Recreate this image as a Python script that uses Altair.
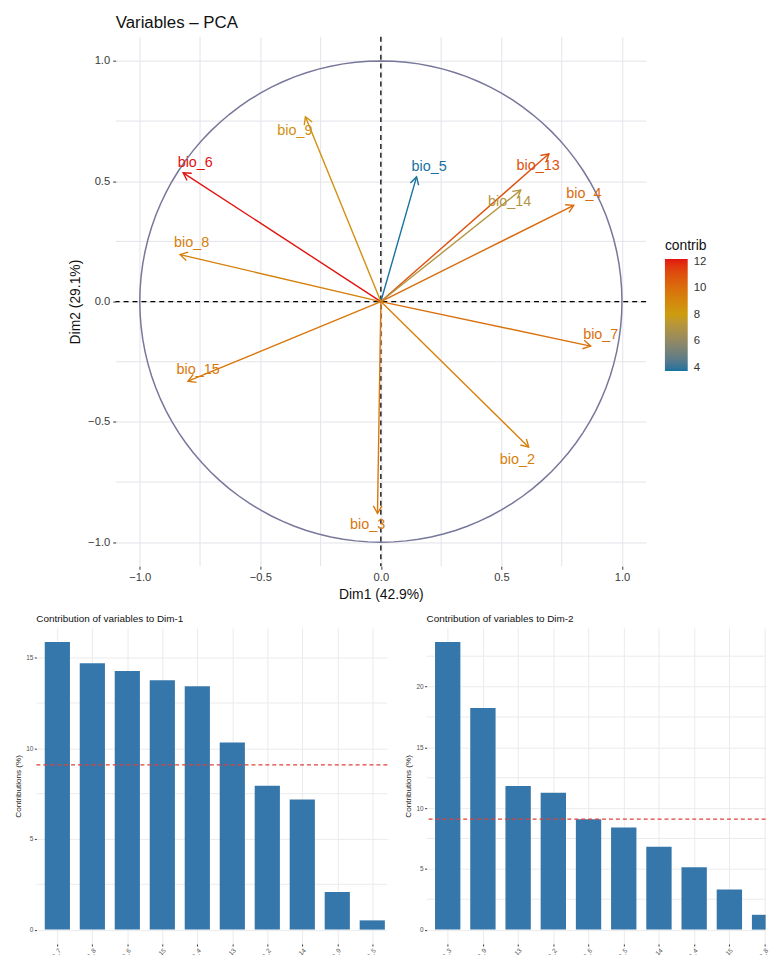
import altair as alt
import pandas as pd

FONT = "Liberation Sans"

# ---------------- PCA variable map ----------------
var_names = ["bio_2", "bio_3", "bio_4", "bio_5", "bio_6", "bio_7", "bio_8",
             "bio_9", "bio_13", "bio_14", "bio_15"]
dim1_coord = [0.613, -0.014, 0.80, 0.148, -0.82, 0.87, -0.833, -0.313, 0.697, 0.58, -0.80]
dim2_coord = [-0.605, -0.88, 0.40, 0.518, 0.535, -0.185, 0.195, 0.768, 0.614, 0.463, -0.331]
contrib_total = [9.3, 9.6, 10.1, 3.75, 12.2, 9.9, 9.3, 8.6, 11.0, 7.1, 9.6]
label_x = [0.566, -0.055, 0.842, 0.2, -0.77, 0.912, -0.785, -0.357, 0.652, 0.534, -0.758]
label_y = [-0.657, -0.928, 0.445, 0.56, 0.577, -0.141, 0.243, 0.709, 0.564, 0.415, -0.286]

pca_major = [-1.0, -0.5, 0.0, 0.5, 1.0]
pca_minor = [-0.75, -0.25, 0.25, 0.75]
legend_ticks = [4, 6, 8, 10, 12]

# ---------------- contributions ----------------
dim1_order = ["bio_7", "bio_8", "bio_6", "bio_15", "bio_4", "bio_13", "bio_2",
              "bio_14", "bio_9", "bio_5", "bio_3"]
dim1_contrib = [15.86, 14.69, 14.27, 13.76, 13.43, 10.32, 7.93, 7.18, 2.08, 0.51, 0.02]
dim2_order = ["bio_3", "bio_9", "bio_13", "bio_2", "bio_6", "bio_5", "bio_14",
              "bio_4", "bio_15", "bio_8", "bio_7"]
dim2_contrib = [23.66, 18.24, 11.81, 11.26, 9.09, 8.41, 6.81, 5.13, 3.31, 1.22, 1.06]
expected_contrib = 9.09
dim1_major = [0, 5, 10, 15]
dim1_minor = [2.5, 7.5, 12.5]
dim2_major = [0, 5, 10, 15, 20]
dim2_minor = [2.5, 7.5, 12.5, 17.5, 22.5]

# ================= top chart =================
pca_df = pd.DataFrame({"name": var_names, "x": dim1_coord, "y": dim2_coord,
                       "contrib": contrib_total, "lx": label_x, "ly": label_y})
zero_df = pd.DataFrame({"o": [0.0]})
minor_df = pd.DataFrame({"g": pca_minor})

PGRID = "#e3e3ea"
xs = alt.Scale(domain=[-1.1, 1.1], nice=False, zero=False)
ys = alt.Scale(domain=[-1.1, 1.1], nice=False, zero=False)


def pca_axis(title, **kw):
    return alt.Axis(values=pca_major, title=title, format=".1f",
                    grid=True, gridColor=PGRID, gridWidth=1, domain=False,
                    tickColor="#333333", tickSize=3, tickWidth=1,
                    labelFontSize=11.3, labelColor="#3a3a3a",
                    titleFontSize=14, titleFontWeight="normal", titleColor="#111111",
                    labelFlush=False, labelOverlap=False, titlePadding=5, **kw)


XAX = pca_axis("Dim1 (42.9%)", labelPadding=2)
YAX = pca_axis("Dim2 (29.1%)", labelPadding=3)


def px(field):
    return alt.X(field, scale=xs, axis=XAX)


def py(field):
    return alt.Y(field, scale=ys, axis=YAX)


minor_x = alt.Chart(minor_df).mark_rule(color=PGRID, strokeWidth=1).encode(x=px("g:Q"))
minor_y = alt.Chart(minor_df).mark_rule(color=PGRID, strokeWidth=1).encode(y=py("g:Q"))

circle = alt.Chart(alt.sequence(0, 361, 3, as_="deg")).transform_calculate(
    cx="cos(datum.deg*PI/180)", cy="sin(datum.deg*PI/180)"
).mark_line(color="#77779a", strokeWidth=1.5).encode(
    x=px("cx:Q"), y=py("cy:Q"), order="deg:Q")

hline = alt.Chart(zero_df).mark_rule(color="black", strokeDash=[5, 4], strokeWidth=1.3).encode(
    y=py("o:Q"))
vline = alt.Chart(zero_df).mark_rule(color="black", strokeDash=[5, 4], strokeWidth=1.3).encode(
    x=px("o:Q"))

color_scale = alt.Scale(range=["#17729f", "#cc9e0e", "#e2120f"], interpolate="lab",
                        zero=False, nice=False)
color_legend = alt.Color(
    "contrib:Q", scale=color_scale,
    legend=alt.Legend(type="gradient", orient="none", legendX=554, legendY=204,
                      title="contrib", direction="vertical", gradientLength=113,
                      gradientThickness=23, values=legend_ticks, titleFontSize=14,
                      titleFontWeight="normal", titleColor="#111111", titlePadding=6,
                      labelFontSize=11.5, labelColor="#333333", labelOffset=6, padding=0,
                      gradientStrokeWidth=0, titleFont=FONT, labelFont=FONT),
)
color_plain = alt.Color("contrib:Q", scale=color_scale, legend=None)

segs = alt.Chart(pca_df).transform_calculate(o="0").mark_rule(strokeWidth=1.4).encode(
    x=px("x:Q"), y=py("y:Q"), x2="o:Q", y2="o:Q", color=color_legend)

heads = alt.Chart(pca_df).transform_calculate(
    ang="(atan2(datum.x, datum.y)*180/PI + 360) % 360"
).mark_point(shape="M -0.577 1 L 0 0 L 0.577 1", filled=False, size=225,
             strokeWidth=1.4, opacity=1).encode(
    x=px("x:Q"), y=py("y:Q"), color=color_plain, angle=alt.Angle("ang:Q", scale=None))

labels = alt.Chart(pca_df).mark_text(fontSize=14.5, font=FONT).encode(
    x=px("lx:Q"), y=py("ly:Q"), text="name:N", color=color_plain)

pca = alt.layer(minor_x, minor_y, circle, hline, vline, segs, heads, labels).resolve_legend(
    color="independent"
).properties(
    width=535, height=534,
    title=alt.TitleParams("Variables \u2013 PCA", anchor="start", frame="group", offset=4,
                          fontSize=17, fontWeight="normal", font=FONT, color="#111111"))

spacer = alt.Chart(zero_df).mark_point(opacity=0, size=1).encode(
    x=alt.value(16), y=alt.value(5)).properties(width=32, height=10)

# ================= contribution bars =================
BAR = "#3677ab"
GRID = "#ebebeb"


def contrib_chart(order, vals, title, width, xmax, yhi, ymajor, yminor):
    df = pd.DataFrame({"var": order, "val": vals})
    df["idx"] = list(range(len(order)))
    labels_js = "[" + ",".join(f"'{v}'" for v in order) + "]"
    xscale = alt.Scale(domain=[-0.6, xmax], nice=False, zero=False)
    yscale = alt.Scale(domain=[-0.05 * yhi, 1.05 * yhi], nice=False, zero=False)
    xaxis = alt.Axis(values=list(range(10)), labelExpr=f"{labels_js}[datum.value]",
                     title=None, grid=True, gridColor=GRID, domain=False, tickSize=2,
                     tickColor="#333333", labelAngle=-45, labelAlign="right",
                     labelBaseline="top", labelFontSize=6.5, labelColor="#4d4d4d",
                     labelPadding=1, labelFlush=False, labelOverlap=False)
    yaxis = alt.Axis(values=ymajor, title="Contributions (%)", grid=True, gridColor=GRID,
                     domain=False, tickSize=2, tickColor="#333333",
                     labelFontSize=6.5, labelColor="#4d4d4d", labelPadding=1.5,
                     titleFontSize=8.2, titleFontWeight="normal", titleColor="#222222",
                     titlePadding=3.6, labelFlush=False, labelOverlap=False)
    minor = alt.Chart(pd.DataFrame({"g": yminor})).mark_rule(color=GRID, strokeWidth=1).encode(
        y=alt.Y("g:Q", scale=yscale, axis=yaxis))
    # bars are cut at the right edge of the visible panel, as in the cropped original
    bars = alt.Chart(df).transform_filter(
        f"datum.idx - 0.36 < {xmax}"
    ).transform_calculate(
        x0="datum.idx - 0.36", x1=f"min(datum.idx + 0.36, {xmax})", z="0"
    ).mark_bar(color=BAR).encode(
        x=alt.X("x0:Q", scale=xscale, axis=xaxis), x2="x1:Q",
        y=alt.Y("val:Q", scale=yscale, axis=yaxis), y2="z:Q")
    ref = alt.Chart(pd.DataFrame({"e": [expected_contrib]})).mark_rule(
        color="#e0403a", strokeDash=[4, 3], strokeWidth=1.2).encode(
        y=alt.Y("e:Q", scale=yscale, axis=yaxis))
    return alt.layer(minor, bars, ref).properties(
        width=width, height=319,
        title=alt.TitleParams(title, anchor="start", frame="group", offset=3.4, fontSize=10,
                              fontWeight="normal", font=FONT, color="#111111"))


left = contrib_chart(dim1_order, dim1_contrib, "Contribution of variables to Dim-1",
                     354, 9.43, max(dim1_contrib), dim1_major, dim1_minor)
right = contrib_chart(dim2_order, dim2_contrib, "Contribution of variables to Dim-2",
                      342, 9.03, max(dim2_contrib), dim2_major, dim2_minor)

top_row = alt.hconcat(spacer, pca, spacing=0)
bottom_row = alt.hconcat(left, right, spacing=14.6)

chart = alt.vconcat(top_row, bottom_row, spacing=12).properties(
    padding={"left": 4.6, "top": 2, "right": 0, "bottom": -15}
).configure_view(stroke=None).configure_axis(labelFont=FONT, titleFont=FONT)

chart.save("out.html", embed_options={"renderer": "svg", "actions": False})
